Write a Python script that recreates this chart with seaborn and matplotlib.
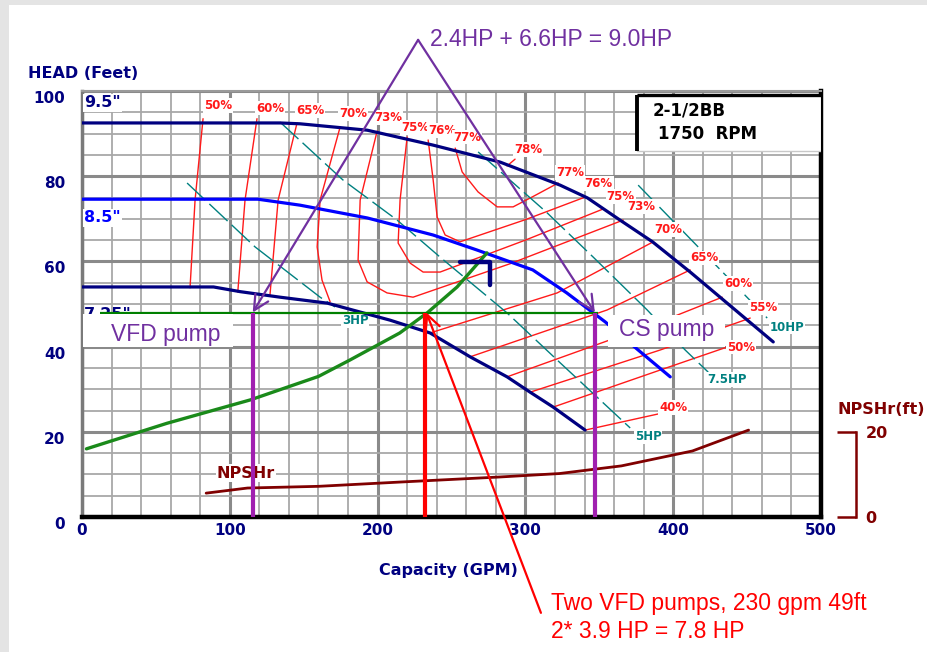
import matplotlib
matplotlib.use("Agg")
import seaborn as sns
import matplotlib.pyplot as plt
from matplotlib.patches import Rectangle
import matplotlib.transforms as mtransforms

# impeller curves, capacity (GPM) vs head (ft)
q_95 = [0, 134, 147.5, 193, 237.5, 283, 323.5, 342, 364, 386, 411.5, 436.5, 467.7]
h_95 = [92.5, 92.5, 92.3, 90.8, 87.3, 83.3, 77.9, 74.9, 69.7, 64.6, 57.5, 50.2, 41.1]
q_85 = [0, 119, 147.5, 193, 237.5, 267, 305, 328, 354, 376.3, 398]
h_85 = [74.6, 74.6, 73.2, 70.2, 66.2, 62.7, 58, 52.6, 45.8, 39.2, 32.9]
q_725 = [0, 89, 107, 134, 166, 208.5, 235.5, 262.6, 287.6, 303.2, 318.8, 340.4]
h_725 = [54, 54, 52.9, 51.6, 50.2, 46.2, 43.2, 37.6, 32.9, 29.3, 25.8, 20.4]

# system curve and operating points
sys_q = [3, 57.5, 114, 160, 181, 215, 233.5, 253.8, 274]
sys_h = [16, 22, 27.5, 33, 36.8, 43.2, 47.9, 54, 62]
op_head = 48
op_line_q = [12, 349]
vfd_q = 115.5
cs_q = 347
twin_q = 232

# best efficiency marker
bep_q = [255.8, 276.1, 276.1]
bep_h = [59.9, 59.9, 54.5]

# NPSHr
npsh_q = [84, 112, 160, 215, 283, 323, 365, 413, 451]
npsh_h = [5.6, 6.8, 7.2, 8.2, 9.4, 10.2, 12.0, 15.5, 20.4]

# efficiency contours (one list per branch)
eff_q = [
    [81.9, 76.5, 73.1],
    [118.4, 110.3, 105.4],
    [145.5, 132.7, 127.2],
    [174.6, 161.1, 159.1, 162.4, 167.9],
    [199.7, 188.2, 186.8, 192.9, 206.4, 224, 290, 366.2],
    [220, 215.2, 213.9, 222, 230.8, 242.3, 300, 352.6],
    [234.2, 237.6, 240.3, 245.7, 255.8, 300, 340.4],
    [252.5, 257.2, 268, 280.9, 291.7, 305, 322.2],
    [287.6, 293],
    [235.5, 321.5, 386.5],
    [262.6, 355.3, 411.5],
    [287.6, 391.2, 433.2],
    [303.2, 391.2, 452.1],
    [318.8, 391.2, 436.5],
    [340.4, 392.6],
]
eff_h = [
    [93.5, 74.4, 53.8],
    [93.5, 74.4, 52.8],
    [92.5, 74.4, 52.2],
    [91.5, 74.4, 63.4, 55.6, 50.5],
    [90.6, 74.4, 60.3, 55.2, 52.6, 51.6, 59.5, 69.7],
    [89.2, 74.4, 64.3, 59.6, 57.5, 57.5, 65, 72.3],
    [88.5, 79.1, 70.4, 66.2, 64.6, 69.8, 75.1],
    [86.6, 81, 76.3, 72.8, 72.8, 75.2, 78.4],
    [82.4, 84],
    [43.2, 52.6, 64.6],
    [37.6, 48.6, 58],
    [32.9, 45.8, 51.6],
    [29.3, 39.2, 46.7],
    [25.8, 34.5, 39.9],
    [20.4, 24.4],
]
eff_text = ["50%", "60%", "65%", "70%", "73%", "75%", "76%", "77%", "78%",
            "77%", "76%", "75%", "73%", "70%", "65%", "60%", "55%", "50%", "40%"]
eff_text_q = [92, 127.2, 154.3, 183.4, 207, 225.4, 243.7, 260.6, 301.9,
              330.3, 349.5, 364.5, 378.3, 396.6, 421, 444, 461, 446, 400]
eff_text_h = [96.7, 96, 95.5, 94.8, 93.7, 91.5, 90.8, 89.2, 86.2,
              80.8, 78.2, 75.3, 72.8, 67.4, 60.8, 54.9, 49.1, 39.9, 25.8]

# horsepower lines
hp_names = ["3HP", "5HP", "7.5HP", "10HP"]
hp_q = [
    [71.1, 117.1, 161.1, 171.2],
    [134, 176.6, 213.2, 242.3, 287.6, 323.5, 370.9],
    [268, 314.7, 345.9, 382.4, 408.1, 423.7],
    [376.3, 463.6],
]
hp_h = [
    [78.4, 63.4, 51.6, 49.3],
    [92.7, 79.1, 69.7, 61, 47.9, 36.2, 20.9],
    [85.7, 71.4, 61, 48.6, 39.2, 34],
    [77.9, 46.7],
]
hp_text_q = [184.8, 383, 436.5, 477]
hp_text_h = [46.2, 18.8, 32.2, 44.6]

NAVY = "#000080"
BLUE = "#0000ff"
RED = "#ff1a1a"
TEAL = "#008080"
DARKRED = "#800000"
GREEN = "#1a8a1a"
PURPLE = "#7030a0"
MAGENTA = "#a020b0"

sns.set_theme(style="white")
plt.rcParams["font.family"] = ["DejaVu Sans"]

fig = plt.figure(figsize=(9.28, 6.52), dpi=100)
fig.add_artist(Rectangle((0, 0), 9 / 928, 1, transform=fig.transFigure, fc="#e4e4e4", ec="none", zorder=0))
fig.add_artist(Rectangle((0, 1 - 5 / 652), 1, 5 / 652, transform=fig.transFigure, fc="#e4e4e4", ec="none", zorder=0))

ax = fig.add_axes([82 / 928, 135 / 652, 739 / 928, 426 / 652])


def curve(q, h, color, lw, ls="-", z=2):
    sns.lineplot(x=q, y=h, ax=ax, color=color, linewidth=lw, linestyle=ls,
                 sort=False, estimator=None, zorder=z)


small_box = dict(boxstyle="square,pad=0.08", fc="white", ec="none")

# efficiency contours
for q, h in zip(eff_q, eff_h):
    curve(q, h, RED, 1.0)
for t, q, h in zip(eff_text, eff_text_q, eff_text_h):
    ax.text(q, h, t, color=RED, fontsize=8.5, fontweight="bold", ha="center", va="center",
            bbox=small_box, zorder=3)

# horsepower lines
for q, h in zip(hp_q, hp_h):
    curve(q, h, TEAL, 1.0, ls=(0, (18, 4)))
for t, q, h in zip(hp_names, hp_text_q, hp_text_h):
    ax.text(q, h, t, color=TEAL, fontsize=8.5, fontweight="bold", ha="center", va="center",
            bbox=small_box, zorder=3)

# impellers
curve(q_95, h_95, NAVY, 2.3, z=3)
curve(q_85, h_85, BLUE, 2.3, z=3)
curve(q_725, h_725, NAVY, 2.3, z=3)
ax.text(1.5, 97.2, '9.5"', color=NAVY, fontsize=11.5, fontweight="bold", va="center", bbox=small_box, zorder=3)
ax.text(1.5, 70.2, '8.5"', color=BLUE, fontsize=11.5, fontweight="bold", va="center", bbox=small_box, zorder=3)
ax.text(1.5, 47.6, '7.25"', color=NAVY, fontsize=11.5, fontweight="bold", va="center", zorder=3)

# NPSHr
curve(npsh_q, npsh_h, DARKRED, 2.0, z=3)
ax.text(111, 10.3, "NPSHr", color=DARKRED, fontsize=11.5, fontweight="bold", ha="center", va="center",
        bbox=small_box, zorder=3)

# system curve, operating line, marker
curve(sys_q, sys_h, GREEN, 2.4, z=4)
ax.hlines(op_head, op_line_q[0], op_line_q[1], color="#008000", lw=1.6, zorder=4)
curve(bep_q, bep_h, NAVY, 3.2, z=4)

ax.vlines([vfd_q, cs_q], 0, op_head, color=MAGENTA, lw=3.0, zorder=5)
ax.vlines(twin_q, 0, op_head, color="red", lw=3.0, zorder=5)

# label boxes
ax.add_patch(Rectangle((0.7, 39.9), 101.5, 7.75, fc="white", ec="none", zorder=6))
ax.add_patch(Rectangle((356, 39.9), 79, 7.5, fc="white", ec="none", zorder=6))
ax.text(56.9, 42.9, "VFD pump", color=PURPLE, fontsize=16.5, family="Liberation Sans",
        ha="center", va="center", zorder=7)
ax.text(395.6, 44.1, "CS pump", color=PURPLE, fontsize=16.5, family="Liberation Sans",
        ha="center", va="center", zorder=7)

# pump model box
ax.add_patch(Rectangle((375.6, 85.8), 124.4, 13.3, fc="white", ec="#c8c8c8", lw=1, zorder=6))
ax.vlines(375.6, 85.8, 99.1, color="black", lw=2.8, zorder=7)
ax.hlines(99.1, 375.6, 500, color="black", lw=2.4, zorder=7)
ax.text(385.8, 95.4, "2-1/2BB", fontsize=12, fontweight="bold", color="black", va="center", zorder=7)
ax.text(389.8, 90.0, "1750  RPM", fontsize=12, fontweight="bold", color="black", va="center", zorder=7)

# annotations
arrow_purple = dict(arrowstyle="->,head_length=0.9,head_width=0.45", color=PURPLE, lw=1.6,
                    shrinkA=0, shrinkB=0)
ax.annotate("", xy=(vfd_q, op_head), xytext=(227.4, 112), arrowprops=arrow_purple,
            annotation_clip=False, zorder=8)
ax.annotate("", xy=(cs_q, op_head), xytext=(227.4, 112), arrowprops=arrow_purple,
            annotation_clip=False, zorder=8)
ax.text(235.5, 112, "2.4HP + 6.6HP = 9.0HP", color=PURPLE, fontsize=16.5, family="Liberation Sans",
        ha="left", va="center", clip_on=False)

ax.annotate("", xy=(twin_q + 1, op_head), xytext=(310.5, -22.5),
            arrowprops=dict(arrowstyle="->,head_length=0.9,head_width=0.45", color="red", lw=1.6,
                            shrinkA=0, shrinkB=0),
            annotation_clip=False, zorder=8)
ax.text(317.4, -20.2, "Two VFD pumps, 230 gpm 49ft", color="red", fontsize=16.5,
        family="Liberation Sans", ha="left", va="center", clip_on=False)
ax.text(317.4, -26.8, "2* 3.9 HP = 7.8 HP", color="red", fontsize=16.5,
        family="Liberation Sans", ha="left", va="center", clip_on=False)

# axes, grid
ax.set_xlim(0, 500)
ax.set_ylim(0, 100)
ax.set_xticks(range(0, 501, 100))
ax.set_xticks(range(0, 501, 20), minor=True)
ax.set_yticks(range(0, 101, 20))
ax.set_yticks(range(0, 101, 5), minor=True)
ax.set_axisbelow(True)
ax.grid(True, which="minor", color="#a8a8a8", lw=1.3)
ax.grid(True, which="major", color="#8a8a8a", lw=2.2)
ax.tick_params(which="both", length=0)
ax.tick_params(axis="x", pad=4, labelsize=11, labelcolor=NAVY)
ax.tick_params(axis="y", pad=12, labelsize=11, labelcolor=NAVY)
for lab in ax.get_xticklabels() + ax.get_yticklabels():
    lab.set_fontweight("bold")
shift = mtransforms.ScaledTranslation(0, -0.06, fig.dpi_scale_trans)
for lab in ax.get_yticklabels():
    lab.set_transform(lab.get_transform() + shift)
ax.set_xlabel("")
ax.set_ylabel("")
ax.spines["left"].set(color="#7a7a7a", lw=2.5)
ax.spines["top"].set(color="#9a9a9a", lw=1.5)
ax.spines["right"].set(color="black", lw=3.2)
ax.spines["bottom"].set(color="black", lw=3.2)

fig.text(28 / 928, 1 - 73 / 652, "HEAD (Feet)", ha="left", va="center", fontsize=11.5,
         fontweight="bold", color=NAVY)
fig.text(448 / 928, 1 - 571 / 652, "Capacity (GPM)", ha="center", va="center", fontsize=11.5,
         fontweight="bold", color=NAVY)

# NPSHr scale on the right
ax2 = ax.twinx()
ax2.set_ylim(0, 100)
for s in ["left", "top", "bottom"]:
    ax2.spines[s].set_visible(False)
ax2.spines["right"].set_position(("outward", 25))
ax2.spines["right"].set_bounds(0, 20)
ax2.spines["right"].set(color=DARKRED, lw=1.8)
ax2.set_yticks([0, 20])
ax2.tick_params(axis="y", direction="in", length=14, width=1.8, color=DARKRED,
                labelcolor=DARKRED, labelsize=11.5, pad=7)
for lab in ax2.get_yticklabels():
    lab.set_fontweight("bold")
ax2.grid(False)
fig.text(881 / 928, 1 - 410 / 652, "NPSHr(ft)", ha="center", va="center", fontsize=11.5,
         fontweight="bold", color=DARKRED)

fig.savefig("out.png", dpi=100)
